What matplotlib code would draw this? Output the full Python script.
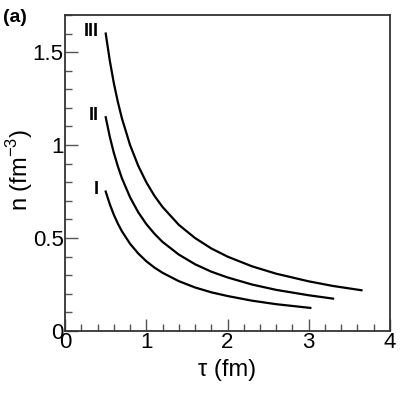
import matplotlib.pyplot as plt
from matplotlib.ticker import MultipleLocator

plt.rcParams['font.family'] = ['Liberation Sans', 'DejaVu Sans']

# curve I
tau_1 = [0.5, 0.55, 0.6, 0.65, 0.7, 0.8, 0.9, 1.0, 1.1, 1.2, 1.4, 1.6, 1.8, 2.0, 2.3, 2.6, 3.02]
n_1 = [0.75, 0.682, 0.625, 0.577, 0.536, 0.469, 0.417, 0.375, 0.341, 0.313, 0.268, 0.234,
       0.208, 0.188, 0.163, 0.144, 0.124]
# curve II
tau_2 = [0.5, 0.55, 0.6, 0.65, 0.7, 0.8, 0.9, 1.0, 1.1, 1.2, 1.4, 1.6, 1.8, 2.0, 2.3, 2.6, 3.0, 3.3]
n_2 = [1.15, 1.045, 0.958, 0.885, 0.821, 0.719, 0.639, 0.575, 0.523, 0.479, 0.411, 0.359,
       0.319, 0.288, 0.25, 0.221, 0.192, 0.174]
# curve III
tau_3 = [0.5, 0.55, 0.6, 0.65, 0.7, 0.8, 0.9, 1.0, 1.1, 1.2, 1.4, 1.6, 1.8, 2.0, 2.3, 2.6, 3.0, 3.3, 3.65]
n_3 = [1.6, 1.455, 1.333, 1.231, 1.143, 1.0, 0.889, 0.8, 0.727, 0.667, 0.571, 0.5,
       0.444, 0.4, 0.348, 0.308, 0.267, 0.242, 0.219]

curve_labels = ['I', 'II', 'III']
x_ticks = [0, 1, 2, 3, 4]
y_ticks = [0, 0.5, 1, 1.5]
y_ticklabels = ['0', '0.5', '1', '1.5']

fig = plt.figure(figsize=(4.07, 3.94), dpi=100)
ax = fig.add_axes([0.160, 0.160, 0.798, 0.802])

for tau, n in [(tau_1, n_1), (tau_2, n_2), (tau_3, n_3)]:
    ax.plot(tau, n, color='black', lw=1.6)

# curve names next to their start
for name, tau, n in zip(curve_labels, [tau_1, tau_2, tau_3], [n_1, n_2, n_3]):
    ax.text(tau[0] - 0.09, n[0] + 0.01, name, ha='right', va='center',
            fontsize=13, fontweight='bold')

ax.set_xlim(0, 4)
ax.set_ylim(0, 1.7)
ax.set_xticks(x_ticks)
ax.set_xticklabels([str(t) for t in x_ticks])
ax.set_yticks(y_ticks)
ax.set_yticklabels(y_ticklabels)
ax.xaxis.set_minor_locator(MultipleLocator(0.2))
ax.yaxis.set_minor_locator(MultipleLocator(0.1))

ax.tick_params(which='both', direction='in', top=False, right=False,
               labelsize=16, width=1, color='#555555')
ax.tick_params(axis='x', which='major', length=9, pad=1)
ax.tick_params(axis='y', which='major', length=9, pad=1)
ax.tick_params(which='minor', length=5)
for s in ax.spines.values():
    s.set_linewidth(1.3)
    s.set_color('#333333')

ax.set_xlabel('τ (fm)', fontsize=17, labelpad=4)
ax.set_ylabel(r'n (fm$^{\mathregular{-3}}$)', fontsize=17)
ax.yaxis.set_label_coords(-0.092, 0.51)
fig.text(0.008, 0.955, '(a)', fontsize=14, fontweight='bold', ha='left', va='center')

fig.savefig('out.png', dpi=100)
